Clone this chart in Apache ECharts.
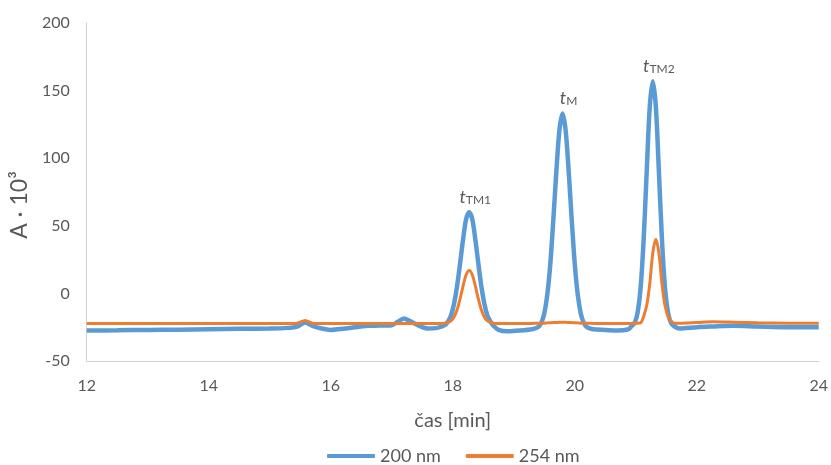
<!DOCTYPE html>
<html>
<head>
<meta charset="utf-8">
<script src="https://cdn.jsdelivr.net/npm/echarts@6/dist/echarts.min.js"></script>
<style>
  html, body { margin: 0; padding: 0; background: #fff; }
  #chart { width: 831px; height: 465px; }
</style>
</head>
<body>
<div id="chart"></div>
<script>
// retention time [min], shared by both traces
const times = [
    12, 12.5, 13, 13.5, 14, 14.5, 15, 15.3, 15.45, 15.58, 15.7, 15.85, 16.0, 16.2, 16.4, 16.6, 16.8,
    17.0, 17.1, 17.2, 17.3, 17.45, 17.6, 17.75,
    17.87, 17.92, 17.97, 18.02, 18.07, 18.12, 18.17, 18.22, 18.27, 18.32, 18.37, 18.42, 18.47, 18.52, 18.57, 18.62, 18.67,
    18.75, 18.9, 19.1, 19.3,
    19.40, 19.45, 19.50, 19.55, 19.60, 19.65, 19.70, 19.75, 19.80, 19.85, 19.90, 19.95, 20.00, 20.05, 20.10, 20.15, 20.20,
    20.3, 20.5, 20.7, 20.88,
    20.93, 20.98, 21.03, 21.08, 21.13, 21.18, 21.23, 21.28, 21.33, 21.38, 21.43, 21.48, 21.53, 21.58, 21.63,
    21.72, 22.0, 22.26, 22.6, 23.0, 23.5, 24
];

// 200 nm trace (A · 10^3)
const abs200 = [
    -27.5, -27.3, -27, -26.8, -26.5, -26.2, -26, -25.5, -24.5, -21.5, -24, -26, -27, -26.2, -25, -24, -23.8,
    -23.5, -21, -18.5, -20.5, -24, -26, -25.5,
    -23.5, -21, -16.6, -8, 5, 22, 40, 55, 60, 55, 40, 22, 5, -8, -16.6, -21, -24,
    -27, -28, -27.5, -26.5,
    -25, -22, -15, -1, 22, 55, 91, 121, 133, 121, 91, 55, 22, -1, -15, -22, -25,
    -26.5, -27, -27.5, -26.5,
    -24.3, -22, -14.4, 4, 40, 90, 138, 157, 138, 90, 40, 4, -14.4, -22, -24.3,
    -26, -25, -24.5, -24, -24.5, -25, -25
];

// 254 nm trace (A · 10^3)
const abs254 = [
    -22.3, -22.3, -22.3, -22.3, -22.3, -22.3, -22.3, -22.3, -22, -20, -22, -22.3, -22.3, -22.3, -22.3, -22.3, -22.3,
    -22.3, -22.3, -22.3, -22.3, -22.3, -22.3, -22.2,
    -22, -21.5, -20.3, -17.6, -12.3, -4.1, 5.6, 13.8, 17, 13.8, 5.6, -4.1, -12.3, -17.6, -20.3, -21.5, -22,
    -22.2, -22.3, -22.3, -22.2,
    -22, -22, -22, -21.8, -21.7, -21.6, -21.5, -21.4, -21.4, -21.4, -21.5, -21.6, -21.7, -21.8, -22, -22, -22,
    -22.2, -22.3, -22.3, -22.3,
    -22.2, -22, -22, -21.8, -17, -9, 7, 30, 40, 30, 7, -9, -17, -20.5, -22,
    -22, -21.5, -21, -21.3, -21.8, -22, -22
];

const seriesNames = ['200 nm', '254 nm'];
const peakLabels = [
    { name: 'TM1', time: 18.27, value: 60 },
    { name: 'M', time: 19.80, value: 133 },
    { name: 'TM2', time: 21.28, value: 157 }
];

const chart = echarts.init(document.getElementById('chart'));

const textColor = '#595959';
const fontFamily = 'Lato, "Open Sans", sans-serif';

const option = {
    animation: false,
    textStyle: { fontFamily: fontFamily },
    grid: { left: 83, right: 11, top: 23, bottom: 104 },
    legend: {
        top: 446,
        left: 327,
        itemWidth: 48,
        itemHeight: 4,
        itemGap: 25,
        padding: 0,
        icon: 'roundRect',
        textStyle: { color: textColor, fontSize: 18, fontFamily: fontFamily, lineHeight: 20 },
        data: seriesNames
    },
    xAxis: {
        type: 'value',
        min: 12,
        max: 24,
        interval: 2,
        name: 'čas [min]',
        nameLocation: 'middle',
        nameGap: 50,
        nameTextStyle: { color: textColor, fontSize: 20, fontFamily: fontFamily },
        axisLine: { onZero: false, lineStyle: { color: '#D0D0D0', width: 1 } },
        axisTick: { show: false },
        splitLine: { show: false },
        axisLabel: { color: textColor, fontSize: 16, margin: 17 }
    },
    yAxis: {
        type: 'value',
        min: -50,
        max: 200,
        interval: 50,
        name: 'A · 10³',
        nameLocation: 'middle',
        nameGap: 52,
        nameRotate: 90,
        nameTextStyle: { color: textColor, fontSize: 23, fontFamily: fontFamily, padding: [0, 26, 0, 0] },
        axisLine: { show: true, lineStyle: { color: '#D0D0D0', width: 1 } },
        axisTick: { show: false },
        splitLine: { show: false },
        axisLabel: { color: textColor, fontSize: 16, margin: 17 }
    },
    series: [
        {
            name: seriesNames[0],
            type: 'line',
            data: times.map((t, i) => [t, abs200[i]]),
            showSymbol: false,
            smooth: 0.3,
            lineStyle: { color: '#5B9BD5', width: 4.5 },
            itemStyle: { color: '#5B9BD5' },
            z: 2,
            markPoint: {
                symbol: 'circle',
                symbolSize: 0,
                data: peakLabels.map(p => ({
                    coord: [p.time, p.value],
                    value: p.name
                })),
                label: {
                    show: true,
                    position: 'top',
                    distance: 6,
                    offset: [6, 0],
                    formatter: p => '{t|t}{s|' + p.value + '}',
                    rich: {
                        t: { fontSize: 18, fontStyle: 'italic', color: textColor, fontFamily: fontFamily, lineHeight: 18, verticalAlign: 'bottom' },
                        s: { fontSize: 12, color: textColor, fontFamily: fontFamily, lineHeight: 18, padding: [6, 0, 0, 0], verticalAlign: 'bottom' }
                    }
                }
            }
        },
        {
            name: seriesNames[1],
            type: 'line',
            data: times.map((t, i) => [t, abs254[i]]),
            showSymbol: false,
            smooth: 0.3,
            lineStyle: { color: '#ED7D31', width: 3 },
            itemStyle: { color: '#ED7D31' },
            z: 3
        }
    ]
};

chart.setOption(option);
</script>
</body>
</html>
